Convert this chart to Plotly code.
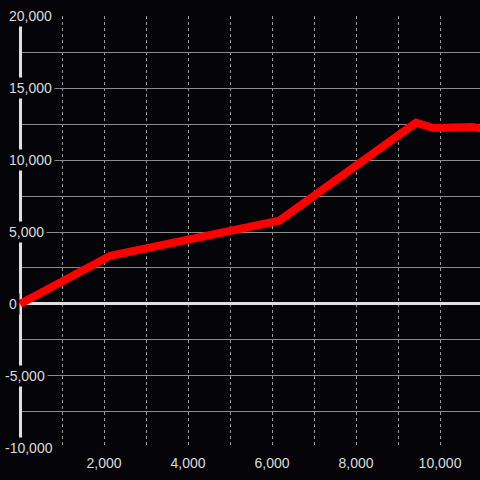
import plotly.graph_objects as go

# data
x_vals = [0, 2150, 6170, 9430, 9840, 10780, 11000]
y_vals = [0, 3350, 5780, 12600, 12220, 12300, 12160]

y_tick_vals = [20000, 15000, 10000, 5000, 0, -5000, -10000]
y_tick_text = ["20,000", "15,000", "10,000", "5,000", "0", "-5,000", "-10,000"]
x_tick_vals = [2000, 4000, 6000, 8000, 10000]
x_tick_text = ["2,000", "4,000", "6,000", "8,000", "10,000"]

BG = "#050409"
FONT = dict(family="Liberation Sans, Arial, sans-serif", size=14, color="#dcdcdc")

fig = go.Figure()
fig.add_trace(go.Scatter(
    x=x_vals, y=y_vals, mode="lines",
    line=dict(color="#ff0000", width=8),
    hoverinfo="skip", showlegend=False,
))

annotations = []
for v, t in zip(y_tick_vals, y_tick_text):
    shift = -13 - (4 if t.startswith("-") else 0)
    annotations.append(dict(
        x=0, xref="paper", y=v, yref="y", text=t, showarrow=False,
        xanchor="left", yanchor="middle", xshift=shift,
        bgcolor=BG, borderpad=2, font=FONT,
    ))

fig.update_layout(
    width=480, height=480,
    margin=dict(l=19, r=0, t=16, b=32),
    paper_bgcolor=BG, plot_bgcolor=BG,
    font=FONT,
    showlegend=False,
    annotations=annotations,
    xaxis=dict(
        range=[-24, 10952],
        tickvals=x_tick_vals, ticktext=x_tick_text,
        showgrid=True, gridcolor="#9a9a9a", gridwidth=1, griddash="3px,3px",
        minor=dict(dtick=1000, tick0=0, showgrid=True, gridcolor="#9a9a9a",
                   gridwidth=1, griddash="3px,3px"),
        zeroline=True, zerolinecolor="#e0e0e0", zerolinewidth=3,
        showline=False, ticks="outside", ticklen=2, tickcolor=BG,
        tickfont=FONT,
    ),
    yaxis=dict(
        range=[-10010, 20010],
        dtick=2500, tick0=0,
        showticklabels=False,
        showgrid=True, gridcolor="#8c8c8c", gridwidth=1,
        zeroline=True, zerolinecolor="#e0e0e0", zerolinewidth=3,
        showline=False,
    ),
)

fig.write_html(
    "out.html",
    config={"displayModeBar": False},
    post_script=(
        "document.body.style.margin='0';"
        "document.body.style.padding='0';"
        "document.body.style.overflow='hidden';"
        "document.body.style.background='#050409';"
    ),
)
